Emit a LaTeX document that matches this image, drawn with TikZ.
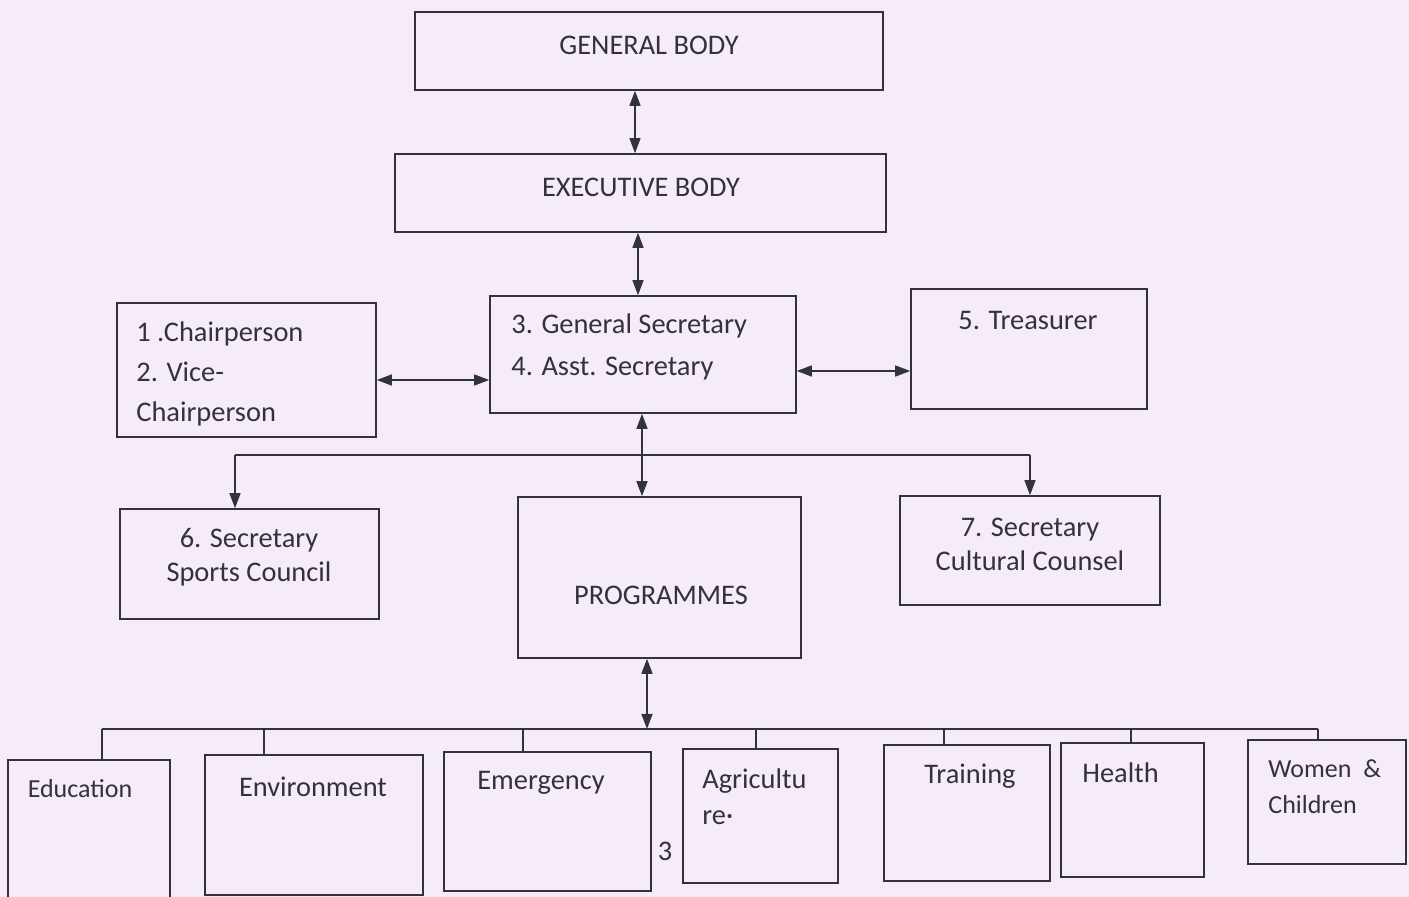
\documentclass[tikz,border=0pt]{standalone}
\usepackage{fontspec}
\setmainfont{Carlito}
\usetikzlibrary{arrows.meta,calc}
\definecolor{paper}{RGB}{246,236,249}
\definecolor{ink}{RGB}{50,50,58}
\newcommand\bx[5]{\node[box,minimum width={(#4-#2)*0.5pt},minimum height={(#5-#3)*0.5pt}] (#1) at ({(#2+#4)/2},{(#3+#5)/2}) {};}
\begin{document}
\begin{tikzpicture}[x=0.5pt,y=-0.5pt,
  font=\fontsize{14.2}{16}\selectfont,
  box/.style={draw=ink,line width=0.8pt,inner sep=0pt,rectangle},
  txt/.style={text=ink,inner sep=0pt},
  conn/.style={draw=ink,line width=0.7pt},
  dbl/.style={conn,{Triangle[length=7.5pt,width=5.5pt]}-{Triangle[length=7.5pt,width=5.5pt]}},
  sgl/.style={conn,-{Triangle[length=7.5pt,width=5.5pt]}}]
\fill[paper] (0,0) rectangle (1409,897);
\useasboundingbox (0,0) rectangle (1409,897);
\clip (0,0) rectangle (1409,897);
% boxes
\bx{gb}{415}{12}{883}{90}
\bx{eb}{395}{154}{886}{232}
\bx{chair}{117}{303}{376}{437}
\bx{gs}{490}{296}{796}{413}
\bx{tr}{911}{289}{1147}{409}
\bx{sp}{120}{509}{379}{619}
\bx{pr}{518}{497}{801}{658}
\bx{cu}{900}{496}{1160}{605}
\bx{ed}{8}{760}{170}{910}
\bx{en}{205}{755}{423}{895}
\bx{em}{444}{752}{651}{891}
\bx{ag}{683}{749}{838}{883}
\bx{trn}{884}{745}{1050}{881}
\bx{he}{1061}{743}{1204}{877}
\bx{wo}{1248}{740}{1406}{864}
% texts
\node[txt] (tgb) at (649,45) {GENERAL BODY};
\node[txt] (teb) at (641,187) {EXECUTIVE BODY};
\node[txt,anchor=west,align=left,font=\fontsize{14.2}{20}\selectfont] (tch) at (136,374) {1 .Chairperson\\2. Vice-\\Chairperson};
\node[txt,anchor=west,align=left,font=\fontsize{14.2}{21}\selectfont] (tgs) at (511,347) {3. General Secretary\\4. Asst. Secretary};
\node[txt] (ttr) at (1028,321) {5. Treasurer};
\node[txt,align=center,font=\fontsize{14.2}{17}\selectfont] (tsp) at (249,557) {6. Secretary\\Sports Council};
\node[txt] (tpr) at (661,595) {PROGRAMMES};
\node[txt,align=center,font=\fontsize{14.2}{17}\selectfont] (tcu) at (1030,544) {7. Secretary\\Cultural Counsel};
\node[txt,font=\fontsize{13}{14}\selectfont] (ted) at (80,789) {Education};
\node[txt] (ten) at (313,787) {Environment};
\node[txt] (tem) at (541,783) {Emergency};
\node[txt] (tthree) at (665,851) {3};
\node[txt,anchor=west,align=left,font=\fontsize{14.2}{18}\selectfont] (tag) at (702,797) {Agricultu\\re·};
\node[txt] (ttrn) at (970,776) {Training};
\node[txt,anchor=west] (the) at (1082,773) {Health};
\node[txt,anchor=west,align=left,font=\fontsize{13}{18}\selectfont] (two) at (1268,787) {Women \ \&\\Children};
% connectors
\draw[dbl] (gb.south -| 635,0) -- (eb.north -| 635,0);
\draw[dbl] (eb.south -| 638,0) -- (gs.north -| 638,0);
\draw[dbl] (chair.east |- 0,380) -- (gs.west |- 0,380);
\draw[dbl] (gs.east |- 0,371) -- (tr.west |- 0,371);
\draw[dbl] (gs.south -| 642,0) -- (pr.north -| 642,0);
\coordinate (b1l) at (235,455);
\coordinate (b1r) at (1030,455);
\draw[conn] (b1l) -- (b1r);
\draw[sgl] (b1l) -- (sp.north -| b1l);
\draw[sgl] (b1r) -- (cu.north -| b1r);
\coordinate (b2) at (647,729);
\draw[dbl] (pr.south -| b2) -- (b2);
\coordinate (b2l) at (102,729);
\coordinate (b2r) at (1318,729);
\draw[conn] (b2l) -- (b2r);
\draw[conn] (b2l) -- (ed.north -| b2l);
\draw[conn] (264,729) -- (en.north -| 264,0);
\draw[conn] (523,729) -- (em.north -| 523,0);
\draw[conn] (756,729) -- (ag.north -| 756,0);
\draw[conn] (944,729) -- (trn.north -| 944,0);
\draw[conn] (1131,729) -- (he.north -| 1131,0);
\draw[conn] (b2r) -- (wo.north -| b2r);
\end{tikzpicture}
\end{document}
